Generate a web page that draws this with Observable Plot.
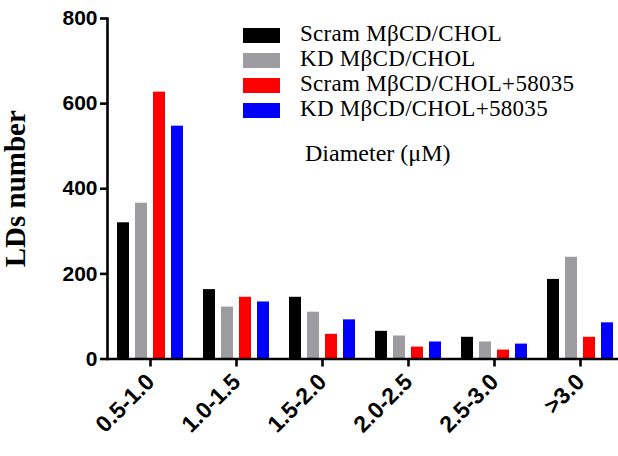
<!DOCTYPE html>
<html>
<head>
<meta charset="utf-8">
<script src="https://cdn.jsdelivr.net/npm/d3@7"></script>
<script src="https://cdn.jsdelivr.net/npm/@observablehq/plot@0.6"></script>
<style>
  html, body { margin: 0; padding: 0; background: #fff; }
  #wrap { position: relative; width: 618px; height: 456px; overflow: hidden; }
  #wrap svg { position: absolute; left: 0; top: 0; }
  .leg { position: absolute; font-family: "Liberation Serif", "Times New Roman", serif; font-size: 23px; color: #000; white-space: nowrap; }
  .sw { position: absolute; width: 37px; height: 15px; }
</style>
</head>
<body>
<div id="wrap"></div>
<script>
const categories = ["0.5-1.0", "1.0-1.5", "1.5-2.0", "2.0-2.5", "2.5-3.0", ">3.0"];
const series = ["Scram MβCD/CHOL", "KD MβCD/CHOL", "Scram MβCD/CHOL+58035", "KD MβCD/CHOL+58035"];
const colors = ["#000000", "#9d9da1", "#ff0000", "#0000ff"];
const scramChol = [320, 163, 145, 65, 51, 187];
const kdChol = [366, 122, 110, 54, 40, 239];
const scramChol58035 = [627, 145, 58, 28, 21, 51];
const kdChol58035 = [547, 134, 92, 40, 35, 85];
const yTicks = [0, 200, 400, 600, 800];
const yTitle = "LDs number";
const legendNote = "Diameter (μM)";

const valuesBySeries = [scramChol, kdChol, scramChol58035, kdChol58035];
const data = [];
series.forEach((s, si) => categories.forEach((c, ci) => data.push({cat: c, series: s, value: valuesBySeries[si][ci]})));

const chart = Plot.plot({
  width: 618,
  height: 456,
  marginLeft: 107,
  marginRight: -5,
  marginTop: 18,
  marginBottom: 97.5,
  style: {background: "transparent", overflow: "visible"},
  fx: {domain: categories, paddingInner: 0, paddingOuter: 0, label: null},
  x: {domain: series, paddingInner: 0.32, paddingOuter: 0.49, axis: null},
  y: {domain: [0, 800], axis: null},
  color: {domain: series, range: colors},
  marks: [
    Plot.barY(data, {fx: "cat", x: "series", y: "value", fill: "series"}),
    Plot.ruleY([0], {stroke: "#000", strokeWidth: 2.6}),
    Plot.frame({anchor: "left", facetAnchor: "left", stroke: "#000", strokeWidth: 2.6}),
    Plot.axisY({ticks: yTicks, tickSize: 7, tickPadding: 3, strokeWidth: 2.6, label: null,
      fontSize: 21, fontWeight: "bold", fontFamily: "Liberation Sans, Arial, sans-serif", color: "#000"}),
    Plot.axisY({ticks: [], tickSize: 0, label: yTitle, labelAnchor: "center", labelArrow: "none", labelOffset: 103,
      fontSize: 29, fontWeight: "bold", fontFamily: "Liberation Serif, Times New Roman, serif", color: "#000"}),
    Plot.axisFx({anchor: "bottom", tickSize: 8, tickPadding: 11, tickRotate: -45, strokeWidth: 2.6, label: null,
      fontSize: 23, fontWeight: "bold", fontFamily: "Liberation Sans, Arial, sans-serif", color: "#000"})
  ]
});
const wrap = document.getElementById("wrap");
wrap.appendChild(chart);

// legend overlay
series.forEach((s, i) => {
  const top = 28 + 25 * i;
  const sw = document.createElement("div");
  sw.className = "sw";
  sw.style.left = "243px";
  sw.style.top = top + "px";
  sw.style.background = colors[i];
  wrap.appendChild(sw);
  const t = document.createElement("div");
  t.className = "leg";
  t.style.left = "300px";
  t.style.top = (top - 7) + "px";
  t.style.lineHeight = "26px";
  t.style.letterSpacing = "0.3px";
  t.textContent = s;
  wrap.appendChild(t);
});
const note = document.createElement("div");
note.className = "leg";
note.style.left = "305px";
note.style.top = "140px";
note.style.lineHeight = "26px";
note.style.fontSize = "24px";
note.textContent = legendNote;
wrap.appendChild(note);
</script>
</body>
</html>
